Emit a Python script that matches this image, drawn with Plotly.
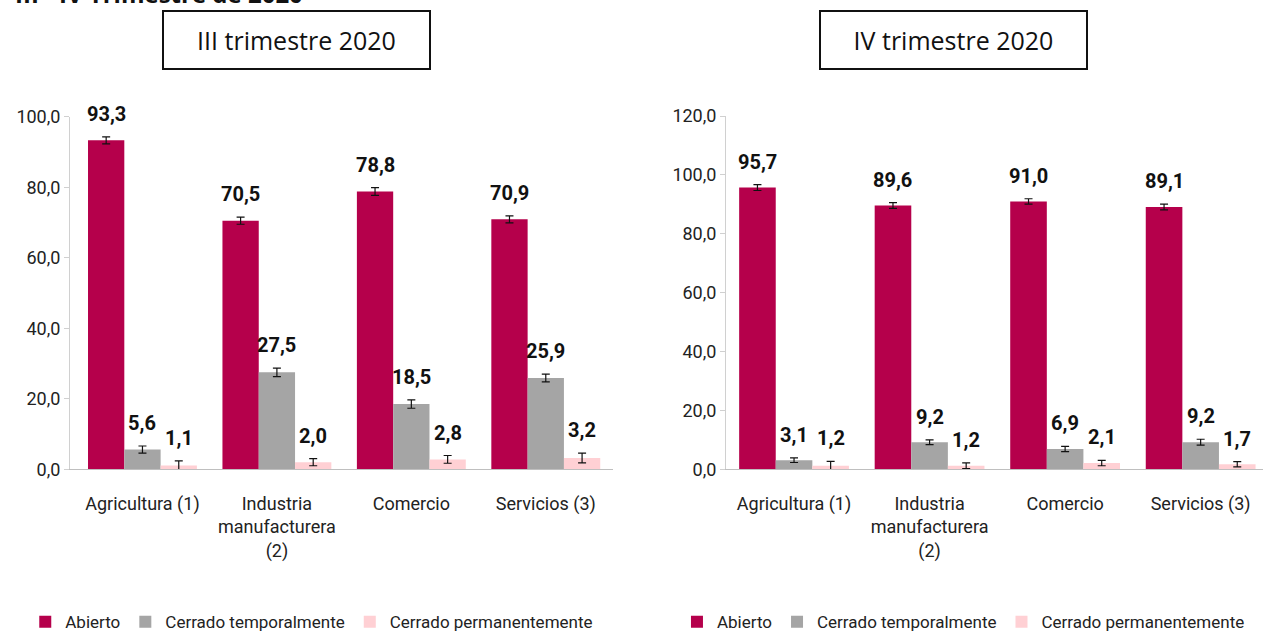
import plotly.graph_objects as go

categories = ["Agricultura (1)", "Industria<br>manufacturera<br>(2)", "Comercio", "Servicios (3)"]
series_names = ["Abierto", "Cerrado temporalmente", "Cerrado permanentemente"]
colors = ["#B5004B", "#A5A5A5", "#FFD0D4"]

# III trimestre 2020
q3_abierto = [93.3, 70.5, 78.8, 70.9]
q3_temporal = [5.6, 27.5, 18.5, 25.9]
q3_permanente = [1.1, 2.0, 2.8, 3.2]
q3_err_abierto = [1.0, 1.0, 1.1, 1.0]
q3_err_temporal = [1.0, 1.2, 1.2, 1.1]
q3_err_permanente = [1.3, 1.0, 1.1, 1.4]

# IV trimestre 2020
q4_abierto = [95.7, 89.6, 91.0, 89.1]
q4_temporal = [3.1, 9.2, 6.9, 9.2]
q4_permanente = [1.2, 1.2, 2.1, 1.7]
q4_err_abierto = [1.0, 1.0, 0.9, 1.0]
q4_err_temporal = [0.8, 0.8, 0.9, 1.0]
q4_err_permanente = [1.5, 1.0, 0.9, 0.9]

FONT = "Roboto, Liberation Sans, sans-serif"
BAR_W = 0.27
W, H = 1263, 635

fig = go.Figure()


def add_panel(values, errors, xaxis, yaxis, legend):
    for k, (name, vals, errs) in enumerate(zip(series_names, values, errors)):
        xs = [i + (k - 1) * BAR_W for i in range(len(categories))]
        fig.add_trace(go.Bar(
            x=xs, y=vals, name=name, width=BAR_W,
            marker=dict(color=colors[k], line=dict(width=0)),
            error_y=dict(type="data", array=errs, color="#111111", thickness=1.2, width=4),
            xaxis=xaxis, yaxis=yaxis, legend=legend,
        ))
        for x, v, e in zip(xs, vals, errs):
            fig.add_annotation(
                x=x, y=v + e, xref=xaxis, yref=yaxis,
                text="<b>" + f"{v:.1f}".replace(".", ",") + "</b>",
                showarrow=False, yanchor="bottom", yshift=9,
                font=dict(family=FONT, size=20, color="#111111"),
            )


add_panel([q3_abierto, q3_temporal, q3_permanente],
          [q3_err_abierto, q3_err_temporal, q3_err_permanente], "x", "y", "legend")
add_panel([q4_abierto, q4_temporal, q4_permanente],
          [q4_err_abierto, q4_err_temporal, q4_err_permanente], "x2", "y2", "legend2")

xax = dict(
    tickvals=list(range(len(categories))), ticktext=categories,
    showline=True, linecolor="#BFBFBF", linewidth=1, ticks="", showgrid=False,
    tickfont=dict(family=FONT, size=18, color="#222222"), zeroline=False,
    automargin=False, ticklabelstandoff=18,
)
yax = dict(
    showline=True, linecolor="#D0D0D0", linewidth=1, ticks="outside", ticklen=5,
    tickcolor="#D0D0D0", showgrid=False, zeroline=False, tickformat=".1f",
    tickfont=dict(family=FONT, size=18, color="#222222"), automargin=False,
)

legend_style = dict(
    orientation="h", yanchor="middle", xanchor="left",
    font=dict(family=FONT, size=17, color="#222222"),
    bgcolor="rgba(0,0,0,0)", itemwidth=30, tracegroupgap=0,
)

fig.update_layout(
    width=W, height=H,
    margin=dict(l=0, r=0, t=0, b=0, autoexpand=False),
    plot_bgcolor="white", paper_bgcolor="white",
    separators=",.",
    barmode="overlay",
    xaxis=dict(domain=[70 / W, 613 / W], range=[-0.539, 3.5], **xax),
    yaxis=dict(domain=[0.261, 0.8162], range=[0, 100], dtick=20, **yax),
    xaxis2=dict(domain=[726 / W, 1.0], range=[-0.502, 3.46], anchor="y2", **xax),
    yaxis2=dict(domain=[0.261, 0.8173], range=[0, 120], dtick=20, anchor="x2", **yax),
    legend=dict(x=0.02, y=0.02, **legend_style),
    legend2=dict(x=0.536, y=0.02, **legend_style),
    showlegend=True,
)

for text, xc in [("III trimestre 2020", 296.5 / W), ("IV trimestre 2020", 953.5 / W)]:
    fig.add_annotation(
        x=xc, y=1 - 40 / H, xref="paper", yref="paper", xanchor="center", yanchor="middle",
        text=text, showarrow=False,
        width=255, height=46, borderpad=5, bordercolor="#111111", borderwidth=2,
        bgcolor="white", font=dict(family="Open Sans, sans-serif", size=25, color="#111111"),
    )

# page title, mostly cut off at the top edge
fig.add_annotation(
    x=305 / W, y=1.0, xref="paper", yref="paper", xanchor="right", yanchor="bottom",
    yshift=-12, text="<b>III - IV Trimestre de 2020</b>", showarrow=False,
    font=dict(family="Open Sans, sans-serif", size=24, color="#111111"),
)

fig.write_html("out.html", config={"displayModeBar": False},
               post_script="document.body.style.margin='0';")
